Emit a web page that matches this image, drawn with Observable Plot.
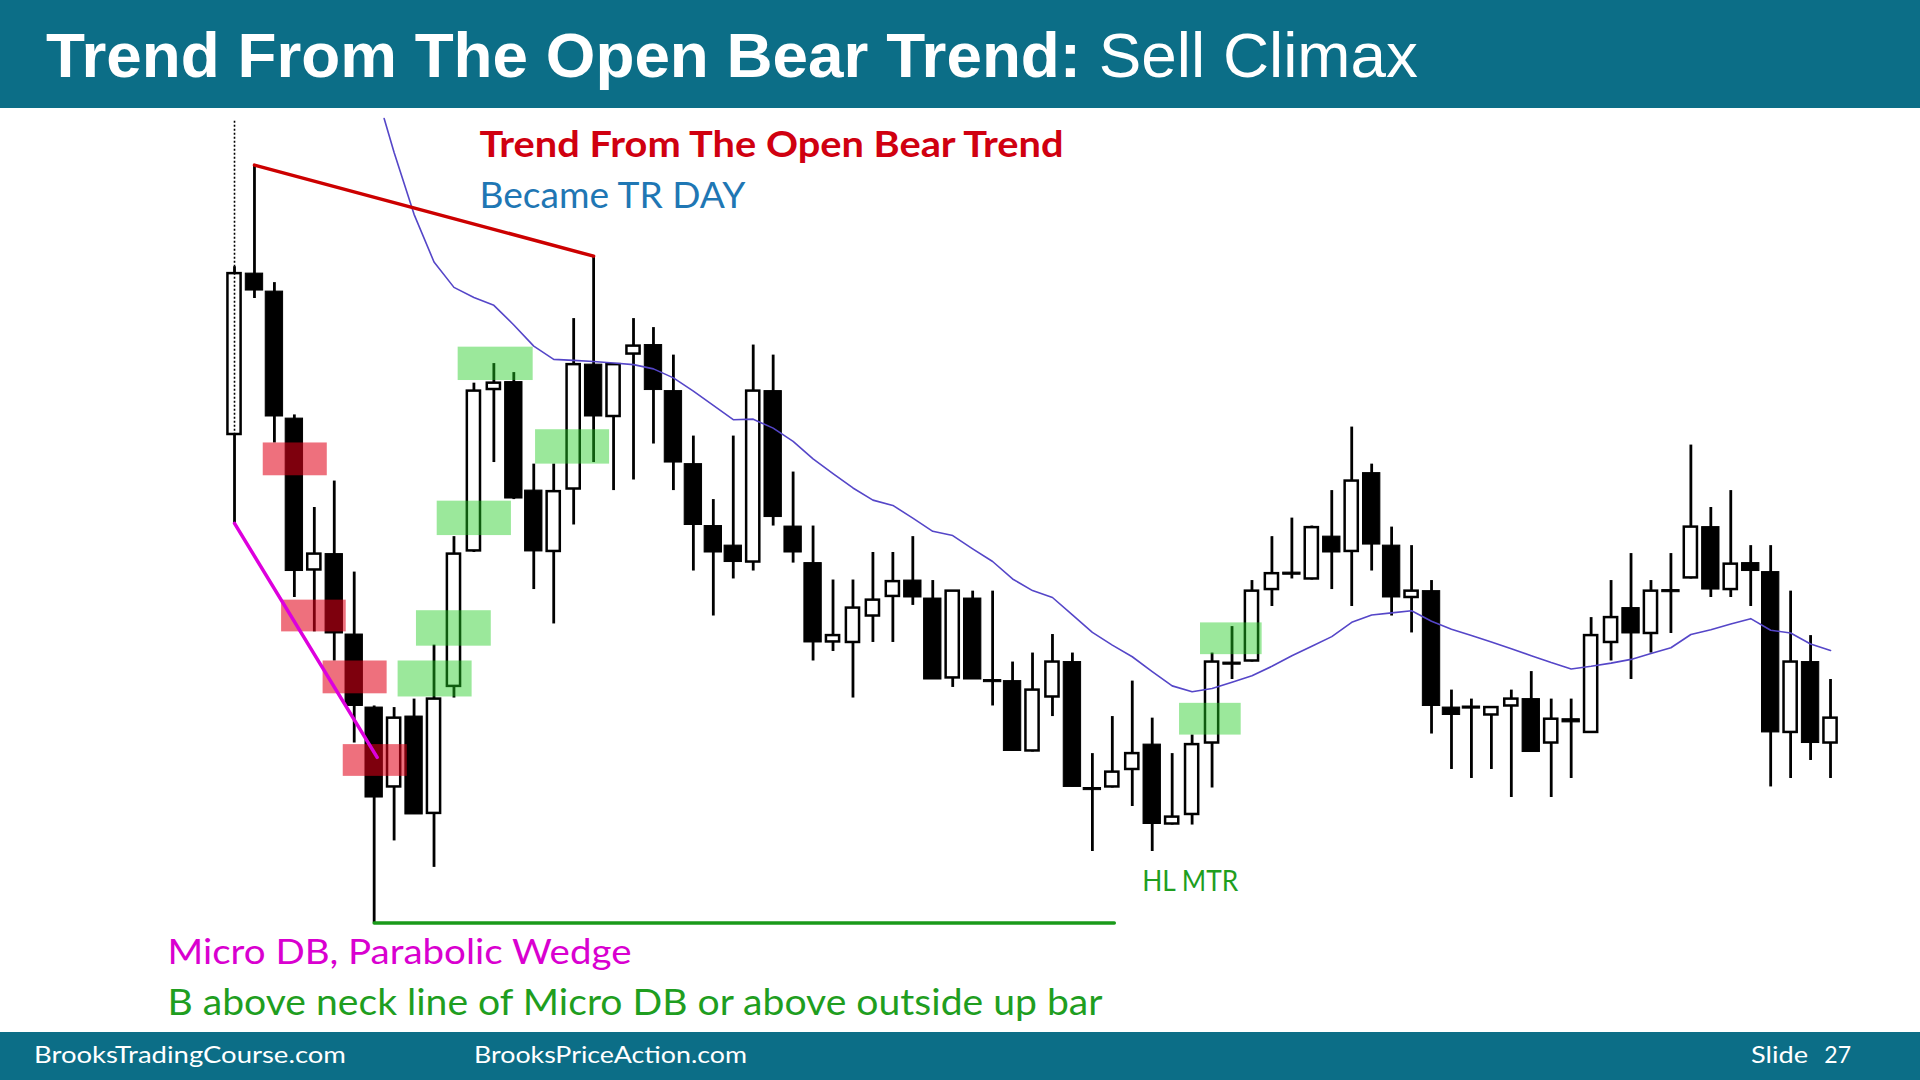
<!DOCTYPE html>
<html>
<head>
<meta charset="utf-8">
<script src="https://cdn.jsdelivr.net/npm/d3@7"></script>
<script src="https://cdn.jsdelivr.net/npm/@observablehq/plot@0.6"></script>
<style>
html, body { margin: 0; padding: 0; background: #fff; }
#page { position: relative; width: 1920px; height: 1080px; overflow: hidden; background: #fff; }
#chart svg { display: block; }
</style>
</head>
<body>
<div id="page">
  <svg id="header" width="1920" height="108" style="display:block">
    <rect width="1920" height="108" fill="#0c6e87"></rect>
    <text x="46" y="77" fill="#fff" font-family="'Liberation Sans', Arial, sans-serif" font-size="63.8"><tspan font-weight="bold">Trend From The Open Bear Trend:</tspan> Sell Climax</text>
  </svg>
  <div id="chart"></div>
  <svg id="footer" width="1920" height="48" style="display:block">
    <rect width="1920" height="48" fill="#0c6e87"></rect>
    <g fill="#fff" font-family="Lato, sans-serif" font-size="23">
      <text x="34" y="31" textLength="312" lengthAdjust="spacingAndGlyphs">BrooksTradingCourse.com</text>
      <text x="474" y="31" textLength="273" lengthAdjust="spacingAndGlyphs">BrooksPriceAction.com</text>
      <text x="1751" y="31" textLength="57" lengthAdjust="spacingAndGlyphs">Slide</text>
      <text x="1851" y="31" text-anchor="end">27</text>
    </g>
  </svg>
</div>
<script>
// ---------------- DATA (bar index, prices in points) ----------------
const bars = d3.range(1, 82);
const open = [1388,1692,1658,1418,1132,1162,1010,872,722,855,
  672,912,1168,1473,1487,1282,1167,1285,1520,1422,
  1540,1557,1470,1332,1215,1178,1147,1470,1214,1145,
  996,995,1045,1082,1112,1078,928,1078,924,922,
  790,892,958,720,722,755,802,652,670,805,
  957,960,1095,1127,1115,1195,1167,1315,1178,1080,
  1092,872,874,858,875,888,805,850,825,995,
  1060,1012,1094,1117,1213,1095,1145,1128,825,958,805];
const high = [1705,1897,1675,1425,1250,1300,1128,875,872,888,
  990,1195,1485,1522,1505,1332,1332,1607,1725,1522,
  1607,1590,1538,1385,1265,1385,1557,1538,1317,1215,
  1113,1113,1165,1165,1195,1112,1092,1092,1092,958,
  975,1010,975,785,855,922,852,785,820,975,
  1025,1112,1195,1230,1215,1282,1402,1332,1213,1178,
  1112,905,888,874,905,940,888,888,1042,1112,
  1163,1112,1163,1368,1250,1282,1178,1178,1092,1008,925];
const low = [1220,1645,1372,1080,1015,960,805,465,620,670,
  570,890,1165,1335,1265,1095,1030,1217,1335,1282,
  1302,1370,1282,1130,1045,1115,1130,1215,1145,960,
  978,890,995,995,1065,925,910,925,875,790,
  788,855,722,600,720,685,600,650,650,720,
  925,958,1063,1115,1113,1095,1063,1130,1045,1013,
  822,755,738,755,702,788,702,738,823,960,
  925,975,1012,1115,1080,1080,1063,722,738,772,738];
const close = [1692,1660,1422,1130,1162,1012,875,702,852,670,
  888,1162,1470,1485,1267,1167,1280,1520,1422,1520,
  1555,1472,1335,1217,1165,1147,1470,1232,1165,995,
  1008,1060,1075,1110,1080,925,1092,925,920,790,
  905,958,722,716,750,785,652,665,802,958,
  953,1092,1125,1123,1212,1165,1300,1180,1080,1092,
  875,858,870,872,888,788,850,844,1008,1042,
  1012,1092,1090,1213,1095,1143,1130,825,958,805,852];

// 20-bar EMA as drawn
const emaBars = [8.5, ...d3.range(9, 82)];
const emaValues = [1985,1921,1804,1714,1666,1647,1632,1595,1555,1530,
  1528,1526,1523,1520,1512,1495,1470,1443,1416,1417,
  1400,1375,1342,1314,1287,1264,1254,1230,1205,1197,
  1172,1148,1115,1093,1080,1047,1014,990,968,940,
  913,902,908,920,932,950,970,988,1006,1033,
  1047,1051,1055,1035,1020,1008,996,983,970,957,
  945,950,956,963,974,985,1010,1019,1030,1040,
  1018,1013,992,980];

// Open marker (dotted) at first bar
const openMarkerBar = [1];
const openMarkerTop = [1980];
const openMarkerBottom = [1388];

// Trend lines
const bearLineBars = [2, 19];
const bearLinePrices = [1897, 1725];
const wedgeLineBars = [1, 8.15];
const wedgeLinePrices = [1220, 778];
const lowLineBars = [8, 45.1];
const lowLinePrices = [465, 465];

// Sell (red) signal zones
const sellX1 = [2.44, 3.36, 5.44, 6.45];
const sellX2 = [5.65, 6.6, 8.65, 9.66];
const sellTop = [1372, 1075, 960, 802];
const sellBottom = [1310, 1015, 898, 742];

// Buy (green) signal zones
const buyX1 = [12.21, 16.09, 11.16, 10.12, 9.2, 49.42, 48.37];
const buyX2 = [15.97, 19.8, 14.88, 13.87, 12.91, 52.51, 51.46];
const buyTop = [1553, 1397, 1262, 1055, 960, 1032, 880];
const buyBottom = [1490, 1332, 1197, 988, 892, 972, 820];

// Annotation labels
const labelText = ["Trend From The Open Bear Trend", "Became TR DAY", "HL MTR",
  "Micro DB, Parabolic Wedge", "B above neck line of Micro DB or above outside up bar"];
const labelBar = [13.28, 13.28, 46.5, -2.36, -2.36];
const labelPrice = [1913, 1816, 526, 388, 292];

// ---------------- LAYOUT / STYLE ----------------
const labelColor = ["#d00010", "#1f77b4", "#1f9e1f", "#d900d0", "#1f9e1f"];
const labelWeight = ["bold", "normal", "normal", "normal", "normal"];
const labelSize = [36, 36, 29, 35, 36];
const labelFit = [584, 266, 96, 464, 935];

// ---------------- BUILD TABLES ----------------
const candles = bars.map((b, k) => ({bar: b, open: open[k], high: high[k], low: low[k], close: close[k]}));
const isUp = d => d.close > d.open;
const ema = emaBars.map((b, k) => ({bar: b, value: emaValues[k]}));
const marker = openMarkerBar.map((b, k) => ({bar: b, top: openMarkerTop[k], bottom: openMarkerBottom[k]}));
const toPts = (xs, ys) => xs.map((x, k) => ({bar: x, price: ys[k]}));
const sellZones = sellX1.map((x, k) => ({x1: x, x2: sellX2[k], top: sellTop[k], bottom: sellBottom[k]}));
const buyZones = buyX1.map((x, k) => ({x1: x, x2: buyX2[k], top: buyTop[k], bottom: buyBottom[k]}));
const labels = labelText.map((t, k) => ({text: t, bar: labelBar[k], price: labelPrice[k], k}));

const labelMarks = labels.map(l => Plot.text([l], {
  x: "bar", y: "price", text: "text", textAnchor: "start", lineAnchor: "bottom",
  fill: labelColor[l.k], fontWeight: labelWeight[l.k], fontSize: labelSize[l.k],
  fontFamily: "Lato, 'Open Sans', sans-serif"
}));

const chart = Plot.plot({
  width: 1920,
  height: 924,
  marginTop: 0, marginRight: 0, marginBottom: 0, marginLeft: 0,
  x: {type: "linear", domain: [-10.73, 85.51], axis: null},
  y: {type: "linear", domain: [258, 2004], axis: null},
  style: {background: "white", overflow: "visible"},
  marks: [
    Plot.ruleX(candles, {x: "bar", y1: "low", y2: "high", stroke: "black", strokeWidth: 2.8}),
    Plot.rect(candles.filter(d => !isUp(d)), {
      x1: d => d.bar - 0.435, x2: d => d.bar + 0.435, y1: "open", y2: "close",
      fill: "black", stroke: "black", strokeWidth: 1
    }),
    Plot.rect(candles.filter(isUp), {
      x1: d => d.bar - 0.33, x2: d => d.bar + 0.33, y1: "open", y2: "close",
      fill: "white", stroke: "black", strokeWidth: 2.5
    }),
    Plot.ruleX(marker, {x: "bar", y1: "top", y2: "bottom", stroke: "black", strokeWidth: 1.6, strokeDasharray: "2,2"}),
    Plot.line(ema, {x: "bar", y: "value", stroke: "#5546c8", strokeWidth: 1.6}),
    Plot.rect(sellZones, {x1: "x1", x2: "x2", y1: "bottom", y2: "top", fill: "#e00018", fillOpacity: 0.56}),
    Plot.rect(buyZones, {x1: "x1", x2: "x2", y1: "bottom", y2: "top", fill: "#22cc22", fillOpacity: 0.45}),
    Plot.line(toPts(bearLineBars, bearLinePrices), {x: "bar", y: "price", stroke: "#cc0000", strokeWidth: 3.5}),
    Plot.line(toPts(wedgeLineBars, wedgeLinePrices), {x: "bar", y: "price", stroke: "#dd00dd", strokeWidth: 3.5}),
    Plot.line(toPts(lowLineBars, lowLinePrices), {x: "bar", y: "price", stroke: "#1a9a1a", strokeWidth: 3.5}),
    ...labelMarks
  ]
});

// fit label widths (Calibri-like proportions)
const fit = new Map(labelText.map((t, k) => [t, labelFit[k]]));
chart.querySelectorAll("text").forEach(t => {
  const w = fit.get(t.textContent);
  if (w) { t.setAttribute("textLength", w); t.setAttribute("lengthAdjust", "spacingAndGlyphs"); }
});

document.getElementById("chart").appendChild(chart);
</script>
</body>
</html>
